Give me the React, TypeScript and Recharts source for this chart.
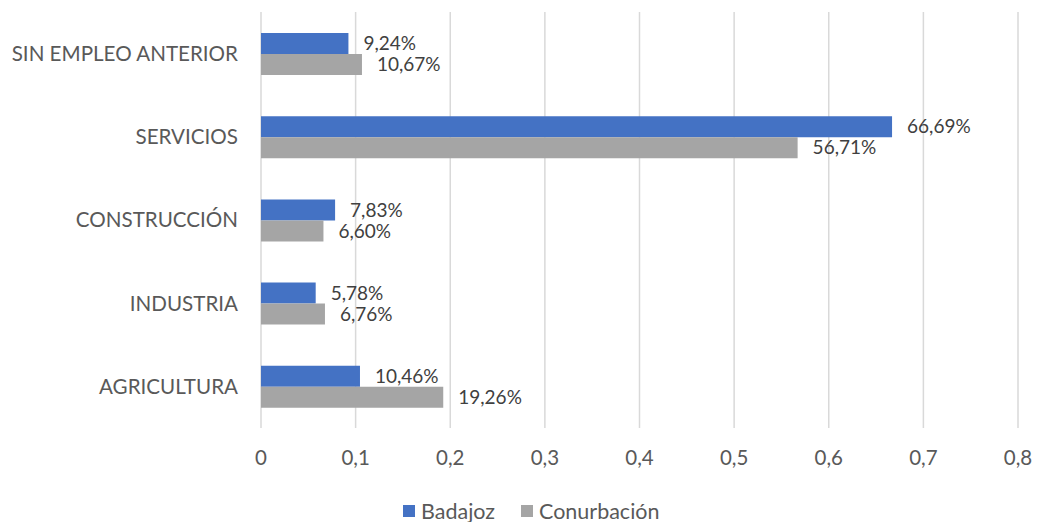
import { BarChart, Bar, XAxis, YAxis, CartesianGrid, Legend, LabelList } from 'recharts';

const categories = ['SIN EMPLEO ANTERIOR', 'SERVICIOS', 'CONSTRUCCIÓN', 'INDUSTRIA', 'AGRICULTURA'];
const badajoz = [0.0924, 0.6669, 0.0783, 0.0578, 0.1046];
const conurbacion = [0.1067, 0.5671, 0.066, 0.0676, 0.1926];
const xTicks = [0, 0.1, 0.2, 0.3, 0.4, 0.5, 0.6, 0.7, 0.8];

const series = [
  { key: 'badajoz', name: 'Badajoz', color: '#4472C4' },
  { key: 'conurbacion', name: 'Conurbación', color: '#A5A5A5' },
];

const data = categories.map((name, i) => ({
  name,
  badajoz: badajoz[i],
  conurbacion: conurbacion[i],
}));

const FONT = 'Lato, "Liberation Sans", Arial, sans-serif';

const tickFmt = (v: number) => (v === 0 ? '0' : v.toFixed(1).replace('.', ','));
const pctFmt = (v: unknown) => (Number(v) * 100).toFixed(2).replace('.', ',') + '%';

export default function App() {
  return (
    <div style={{ position: 'absolute', left: 0, top: 0, fontFamily: FONT }}>
      <BarChart
        width={1037}
        height={522}
        data={data}
        layout="vertical"
        margin={{ top: 12, right: 19, bottom: 0, left: 0 }}
        barGap={0}
        barSize={21}
      >
        <CartesianGrid horizontal={false} stroke="#d9d9d9" strokeWidth={1.5} />
        <XAxis
          type="number"
          domain={[0, 0.8]}
          ticks={xTicks}
          tickFormatter={tickFmt}
          axisLine={false}
          tickLine={false}
          tickSize={0}
          tickMargin={22}
          height={70}
          tick={{ fontSize: 20.5, fill: '#595959', fontFamily: FONT }}
        />
        <YAxis
          type="category"
          dataKey="name"
          width={261}
          axisLine={false}
          tickLine={false}
          tickSize={0}
          tickMargin={23}
          tick={{ fontSize: 20.6, fill: '#595959', fontFamily: FONT }}
        />
        <Legend
          verticalAlign="bottom"
          height={24}
          content={() => (
            <div style={{ display: 'flex', gap: 26, paddingLeft: 403, fontFamily: FONT }}>
              {series.map((s) => (
                <div key={s.key} style={{ display: 'flex', alignItems: 'center', gap: 6, fontSize: 21.5, color: '#595959' }}>
                  <span style={{ display: 'inline-block', width: 12, height: 12, background: s.color }} />
                  {s.name}
                </div>
              ))}
            </div>
          )}
          wrapperStyle={{ left: 0, width: 1037 }}
        />
        {series.map((s) => (
          <Bar key={s.key} dataKey={s.key} name={s.name} fill={s.color} isAnimationActive={false}>
            <LabelList
              dataKey={s.key}
              position="right"
              offset={15}
              formatter={pctFmt}
              style={{ fontSize: 19, fill: '#404040', fontFamily: FONT }}
            />
          </Bar>
        ))}
      </BarChart>
    </div>
  );
}
